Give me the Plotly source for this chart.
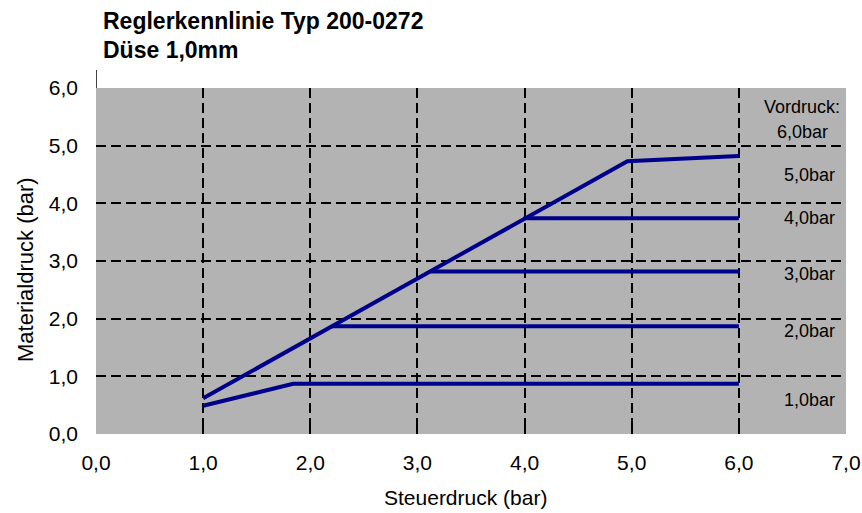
import plotly.graph_objects as go

# Data
main_x = [1.0, 4.96, 6.0]
main_y = [0.62, 4.73, 4.82]
p1_x = [1.0, 1.84, 6.0]
p1_y = [0.49, 0.87, 0.87]
p2_x = [2.2, 6.0]
p2_y = [1.87, 1.87]
p3_x = [3.12, 6.0]
p3_y = [2.82, 2.82]
p4_x = [3.99, 6.0]
p4_y = [3.74, 3.74]

x_ticks = [0, 1, 2, 3, 4, 5, 6, 7]
x_ticktext = ["0,0", "1,0", "2,0", "3,0", "4,0", "5,0", "6,0", "7,0"]
y_ticks = [0, 1, 2, 3, 4, 5, 6]
y_ticktext = ["0,0", "1,0", "2,0", "3,0", "4,0", "5,0", "6,0"]

label_text = ["5,0bar", "4,0bar", "3,0bar", "2,0bar", "1,0bar"]
label_y = [4.50, 3.74, 2.78, 1.78, 0.59]
head_text = ["Vordruck:", "6,0bar"]
head_y = [5.67, 5.24]

W, H = 862, 513
ML, MT, MR, MB = 96, 88, 16, 79
PW, PH = W - ML - MR, H - MT - MB

line_color = "#00008B"
fig = go.Figure()
for xs, ys in [(main_x, main_y), (p1_x, p1_y), (p2_x, p2_y), (p3_x, p3_y), (p4_x, p4_y)]:
    fig.add_trace(go.Scatter(x=xs, y=ys, mode="lines",
                             line=dict(color=line_color, width=4),
                             showlegend=False, hoverinfo="skip"))

for t, yv in zip(label_text, label_y):
    fig.add_annotation(x=6.92, y=yv, text=t, showarrow=False, xanchor="right",
                       yanchor="middle", font=dict(size=18, color="#000"))
for t, yv in zip(head_text, head_y):
    fig.add_annotation(x=6.59, y=yv, text=t, showarrow=False, xanchor="center",
                       yanchor="middle", font=dict(size=18, color="#000"))


def px(xp):
    return (xp - ML) / PW


def py(yp):
    return (MT + PH - yp) / PH


# Title lines
fig.add_annotation(xref="paper", yref="paper", x=px(101), y=py(21),
                   text="<b>Reglerkennlinie Typ 200-0272</b>", showarrow=False,
                   xanchor="left", yanchor="middle", font=dict(size=23, color="#000"))
fig.add_annotation(xref="paper", yref="paper", x=px(101), y=py(50),
                   text="<b>Düse 1,0mm</b>", showarrow=False,
                   xanchor="left", yanchor="middle", font=dict(size=23, color="#000"))

# Axis titles
fig.add_annotation(xref="paper", yref="paper", x=px(465), y=py(498),
                   text="Steuerdruck (bar)", showarrow=False,
                   xanchor="center", yanchor="middle", font=dict(size=21, color="#000"))
fig.add_annotation(xref="paper", yref="paper", x=px(25), y=py(270),
                   text="Materialdruck (bar)", showarrow=False, textangle=-90,
                   xanchor="center", yanchor="middle", font=dict(size=22, color="#000"))

fig.add_shape(type="line", xref="x", yref="paper", x0=0, x1=0, y0=1, y1=py(70),
              line=dict(color="black", width=1.5))

axis_common = dict(showgrid=True, gridcolor="black", griddash="10px,5px", gridwidth=2,
                   zeroline=False, showline=False, ticks="inside", ticklen=6,
                   tickcolor="black", tickwidth=1.5, automargin=False,
                   tickfont=dict(size=21, color="#000"))

fig.update_layout(
    width=W, height=H,
    margin=dict(l=ML, r=MR, t=MT, b=MB),
    paper_bgcolor="white", plot_bgcolor="#B3B3B3",
    font=dict(family="Liberation Sans, Arial, sans-serif", color="#000"),
    hovermode=False,
    xaxis=dict(range=[0, 7], tickvals=x_ticks, ticktext=x_ticktext,
               ticklabelstandoff=14, **axis_common),
    yaxis=dict(range=[0, 6], tickvals=y_ticks, ticktext=y_ticktext,
               ticklabelstandoff=17, **axis_common),
)

fig.write_html("out.html", config={"displayModeBar": False},
               post_script="document.body.style.margin='0';document.body.style.overflow='hidden';")
